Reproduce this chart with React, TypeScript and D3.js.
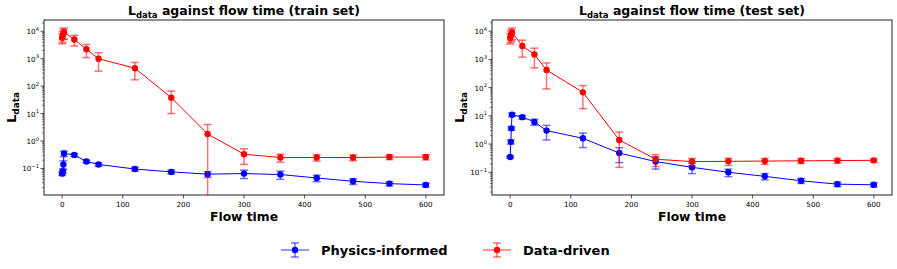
import * as d3 from "d3";

// flow times (four initial points sit just right of 0)
const flowTime = [0, 1, 2, 3, 20, 40, 60, 120, 180, 240, 300, 360, 420, 480, 540, 600];

// train set
const trainPhysics = [0.065, 0.08, 0.14, 0.35, 0.31, 0.18, 0.14, 0.095, 0.075, 0.062, 0.065, 0.06, 0.045, 0.034, 0.028, 0.025];
const trainPhysicsErr = [0.01, 0.015, 0.05, 0.08, 0.04, 0.02, 0.02, 0.015, 0.012, 0.015, 0.022, 0.02, 0.012, 0.008, 0.005, 0.004];
const trainData = [5800, 7000, 8500, 9200, 5000, 2200, 1000, 450, 38, 1.8, 0.33, 0.25, 0.25, 0.25, 0.26, 0.26];
const trainDataErr = [2300, 3000, 3500, 4000, 2100, 1100, 650, 280, 28, 2.2, 0.19, 0.08, 0.065, 0.06, 0.05, 0.055];

// test set
const testPhysics = [0.35, 1.2, 3.6, 11, 9, 6.1, 3.0, 1.6, 0.48, 0.24, 0.15, 0.1, 0.072, 0.05, 0.038, 0.036];
const testPhysicsErr = [0.03, 0.2, 0.5, 1.5, 1.3, 1.5, 1.6, 0.85, 0.26, 0.11, 0.06, 0.03, 0.018, 0.01, 0.007, 0.006];
const testData = [5800, 7000, 8000, 9000, 3000, 1500, 420, 68, 1.4, 0.29, 0.24, 0.245, 0.25, 0.255, 0.26, 0.265];
const testDataErr = [2300, 3000, 3500, 4000, 1800, 1000, 330, 50, 1.25, 0.13, 0.07, 0.07, 0.06, 0.05, 0.05, 0.04];

const xTicks = [0, 100, 200, 300, 400, 500, 600];
const yTickExps = [-1, 0, 1, 2, 3, 4];

const BLUE = "#0000ff";
const RED = "#ff0000";
const FONT = "DejaVu Sans, sans-serif";

type Series = { y: number[]; err: number[]; color: string };

function Panel({ x0, x1, title, series }: { x0: number; x1: number; title: string; series: Series[] }) {
  const top = 20, bottom = 195;
  const x = d3.scaleLinear().domain([-30, 630]).range([x0, x1]);

  // log extent of values with error bars, ignoring non-positive lower bounds
  const vals: number[] = [];
  series.forEach(s => s.y.forEach((v, i) => {
    vals.push(v + s.err[i]);
    if (v - s.err[i] > 0) vals.push(v - s.err[i]);
  }));
  const lo = Math.log10(d3.min(vals)!), hi = Math.log10(d3.max(vals)!);
  const pad = (hi - lo) * 0.05;
  const y = d3.scaleLog().domain([10 ** (lo - pad), 10 ** (hi + pad)]).range([bottom, top]);
  const [dmin, dmax] = y.domain();

  const minor: number[] = [];
  for (let e = -3; e <= 5; e++) for (let m = 2; m <= 9; m++) {
    const v = m * 10 ** e;
    if (v >= dmin && v <= dmax) minor.push(v);
  }

  const line = d3.line<number>().x((_, i) => x(flowTime[i])).y(d => y(d));
  const cx = (x0 + x1) / 2;
  const cap = 4;

  return (
    <g>
      <defs>
        <clipPath id={`clip${x0}`}>
          <rect x={x0} y={top} width={x1 - x0} height={bottom - top} />
        </clipPath>
      </defs>
      <text x={cx} y={15} textAnchor="middle" fontFamily={FONT} fontWeight="bold" fontSize={12.5}>
        L<tspan fontSize={8.5} dy={3}>data</tspan><tspan dy={-3}> {title}</tspan>
      </text>
      <g clipPath={`url(#clip${x0})`}>
        {series.map((s, k) => (
          <g key={k}>
            <path d={line(s.y) || ""} fill="none" stroke={s.color} strokeWidth={1} />
            {s.y.map((v, i) => {
              const px = x(flowTime[i]);
              const lower = v - s.err[i];
              const yl = lower > 0 ? y(lower) : bottom + 10;
              const yu = y(v + s.err[i]);
              return (
                <g key={i} stroke={s.color} strokeWidth={1.5} strokeOpacity={0.55}>
                  <line x1={px} x2={px} y1={yl} y2={yu} />
                  <line x1={px - cap} x2={px + cap} y1={yu} y2={yu} />
                  {lower > 0 && <line x1={px - cap} x2={px + cap} y1={yl} y2={yl} />}
                </g>
              );
            })}
            {s.y.map((v, i) => (
              <circle key={i} cx={x(flowTime[i])} cy={y(v)} r={3.2} fill={s.color} />
            ))}
          </g>
        ))}
      </g>
      <rect x={x0} y={top} width={x1 - x0} height={bottom - top} fill="none" stroke="#222" strokeWidth={1} />
      {xTicks.map(t => (
        <g key={t}>
          <line x1={x(t)} x2={x(t)} y1={bottom} y2={bottom + 3.5} stroke="#222" strokeWidth={0.8} />
          <text x={x(t)} y={bottom + 11.5} textAnchor="middle" fontFamily={FONT} fontSize={7.2}>{t}</text>
        </g>
      ))}
      {minor.map(v => (
        <line key={v} x1={x0 - 2} x2={x0} y1={y(v)} y2={y(v)} stroke="#222" strokeWidth={0.6} />
      ))}
      {yTickExps.map(e => (
        <g key={e}>
          <line x1={x0 - 3.5} x2={x0} y1={y(10 ** e)} y2={y(10 ** e)} stroke="#222" strokeWidth={0.8} />
          <text x={x0 - 5} y={y(10 ** e) + 3} textAnchor="end" fontFamily={FONT} fontSize={7.2}>
            10<tspan fontSize={5.2} dy={-3.5}>{e < 0 ? "\u2212" + Math.abs(e) : e}</tspan>
          </text>
        </g>
      ))}
      <text x={cx} y={221} textAnchor="middle" fontFamily={FONT} fontWeight="bold" fontSize={12.3}>Flow time</text>
      <text transform={`translate(${x0 - 28},${(top + bottom) / 2}) rotate(-90)`} textAnchor="middle"
        fontFamily={FONT} fontWeight="bold" fontSize={13}>
        L<tspan fontSize={9} dy={3}>data</tspan>
      </text>
    </g>
  );
}

function LegendItem({ x, label, color }: { x: number; label: string; color: string }) {
  const y = 250;
  return (
    <g>
      <g stroke={color} strokeOpacity={0.55} strokeWidth={1.5}>
        <line x1={x} x2={x + 28} y1={y} y2={y} />
        <line x1={x + 14} x2={x + 14} y1={y - 7} y2={y + 7} />
        <line x1={x + 10} x2={x + 18} y1={y - 7} y2={y - 7} />
        <line x1={x + 10} x2={x + 18} y1={y + 7} y2={y + 7} />
      </g>
      <circle cx={x + 14} cy={y} r={3.2} fill={color} />
      <text x={x + 40} y={y + 4.5} fontFamily={FONT} fontWeight="bold" fontSize={13}>{label}</text>
    </g>
  );
}

export default function App() {
  return (
    <svg width={897} height={269} style={{ position: "absolute", left: 0, top: 0, background: "#fff" }}>
      <Panel x0={44} x1={444} title="against flow time (train set)"
        series={[{ y: trainPhysics, err: trainPhysicsErr, color: BLUE }, { y: trainData, err: trainDataErr, color: RED }]} />
      <Panel x0={492} x1={892} title="against flow time (test set)"
        series={[{ y: testPhysics, err: testPhysicsErr, color: BLUE }, { y: testData, err: testDataErr, color: RED }]} />
      <LegendItem x={281} label="Physics-informed" color={BLUE} />
      <LegendItem x={483} label="Data-driven" color={RED} />
    </svg>
  );
}
